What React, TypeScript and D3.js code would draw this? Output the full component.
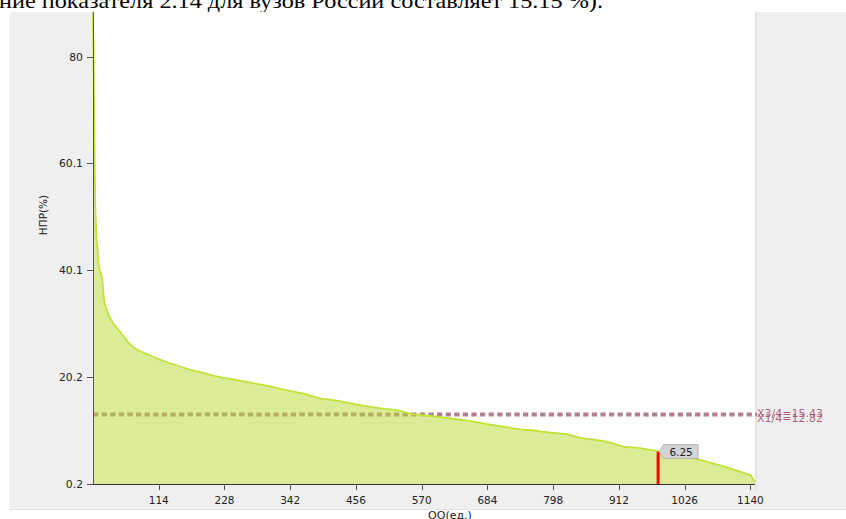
import React from "react";
import * as d3 from "d3";

const W = 846;
const H = 519;

// rank of institution (sorted by value, descending) and indicator value
const ranks = [0, 1, 2, 3, 4, 5, 6, 8, 10, 12, 14, 16, 18, 20, 23, 28, 35, 42, 52, 62, 72, 80, 95, 110, 130, 150, 170, 190, 210, 230, 255, 280, 305, 320, 337, 365, 394, 423, 452, 481, 510, 527, 551, 597, 631, 654, 683, 712, 741, 764, 793, 822, 845, 868, 891, 920, 949, 978, 992, 1053, 1094, 1122, 1140, 1148];
const values = [88.4, 80, 70, 60, 52, 49, 46, 44, 41, 40, 39.5, 38.5, 36, 34, 33, 31.5, 30.2, 29.3, 28, 26.5, 25.6, 25.1, 24.4, 23.7, 22.9, 22.2, 21.5, 21.0, 20.4, 20.0, 19.5, 19.0, 18.5, 18.1, 17.7, 17.1, 16.2, 15.8, 15.15, 14.6, 14.2, 14.0, 13.3, 12.8, 12.3, 12.0, 11.4, 10.9, 10.4, 10.2, 9.8, 9.5, 8.8, 8.5, 8.1, 7.2, 6.9, 6.35, 6.1, 4.7, 3.5, 2.5, 1.9, 0.6];

const yTicks = [0.2, 20.2, 40.1, 60.1, 80];
const xTicks = [114, 228, 342, 456, 570, 684, 798, 912, 1026, 1140];

const xDomain = [0, 1148];
const yDomain = [0.2, 88.4];

const refValue = 13.2;
const refLabels = ["X3/4=15.43", "X1/4=12.82"];

const markRank = 980;
const markValue = 6.25;
const markLabel = "6.25";

const headText = "ние показателя 2.14 для вузов России составляет 15.15 %).";
const yTitle = "НПР(%)";
const xTitle = "OO(ед.)";

export default function App() {
  const left = 93, right = 755, top = 12, bottom = 484;
  const x = d3.scaleLinear().domain(xDomain).range([left, right]);
  const y = d3.scaleLinear().domain(yDomain).range([bottom, top]);

  const pts = ranks.map((r, i) => [r, values[i]] as [number, number]);
  const area = d3.area<[number, number]>().x(d => x(d[0])).y0(bottom).y1(d => y(d[1]))(pts) || "";
  const line = d3.line<[number, number]>().x(d => x(d[0])).y(d => y(d[1]))(pts) || "";

  const font = "'DejaVu Sans', Verdana, sans-serif";
  const mx = x(markRank);
  const my = y(markValue);

  return (
    <svg width={W} height={H} style={{ position: "fixed", left: 0, top: 0, background: "#fff" }}>
      <text x={-1} y={8} fontFamily="'Liberation Serif', 'Times New Roman', serif" fontSize={21} textLength={604} lengthAdjust="spacingAndGlyphs" fill="#000">{headText}</text>
      <rect x={9} y={12} width={W} height={497} rx={4} fill="#efefef" />
      <line x1={9} x2={W} y1={509.5} y2={509.5} stroke="#e2e2e2" />
      <rect x={left} y={top} width={right - left} height={bottom - top} fill="#fff" />
      <rect x={right} y={top} width={2} height={bottom - top + 6} fill="#e4e4e4" />

      {/* reference dashed line, under the area */}
      <line x1={left} x2={right + 2} y1={y(refValue)} y2={y(refValue)} stroke="#b5808e" strokeWidth={4} strokeDasharray="5.3 3.3" />

      <path d={area} fill="rgba(185,217,45,0.5)" />
      <path d={line} fill="none" stroke="#c2e23a" strokeWidth={1.8} />

      {refLabels.map((t, i) => (
        <text key={t} x={right + 2} y={y(refValue) + 2.5 + i * 5} fontFamily={font} fontSize={11} fill="#9a4060" fillOpacity={0.8}>{t}</text>
      ))}

      {/* axes */}
      <line x1={left + 0.5} x2={left + 0.5} y1={top} y2={bottom} stroke="#555" />
      <line x1={left} x2={right} y1={bottom + 0.5} y2={bottom + 0.5} stroke="#333" />
      {yTicks.map(v => (
        <g key={v}>
          <line x1={left - 6} x2={left} y1={Math.round(y(v)) + 0.5} y2={Math.round(y(v)) + 0.5} stroke="#555" />
          <text x={left - 10} y={y(v) + 4} textAnchor="end" fontFamily={font} fontSize={10.8} fill="#222">{v}</text>
        </g>
      ))}
      {xTicks.map(v => (
        <g key={v}>
          <line x1={Math.round(x(v)) + 0.5} x2={Math.round(x(v)) + 0.5} y1={bottom} y2={bottom + 6} stroke="#555" />
          <text x={x(v)} y={bottom + 20} textAnchor="middle" fontFamily={font} fontSize={10.5} fill="#222">{v}</text>
        </g>
      ))}
      <text transform={`translate(47,215) rotate(-90)`} textAnchor="middle" fontFamily={font} fontSize={10.5} fill="#222">{yTitle}</text>
      <text x={450} y={519} textAnchor="middle" fontFamily={font} fontSize={11} fill="#222">{xTitle}</text>

      {/* marker */}
      <line x1={mx} x2={mx} y1={my} y2={bottom} stroke="#ff0000" strokeWidth={3} />
      <path d={`M${mx + 1},${my} L${mx + 5},${my - 6} L${mx + 5},${my - 7} L${mx + 40},${my - 7} L${mx + 40},${my + 7} L${mx + 5},${my + 7} L${mx + 5},${my + 6} Z`} fill="#d4d4d4" stroke="#aaa" strokeWidth={0.8} />
      <text x={mx + 23} y={my + 4} textAnchor="middle" fontFamily={font} fontSize={10.5} fill="#222">{markLabel}</text>
    </svg>
  );
}
